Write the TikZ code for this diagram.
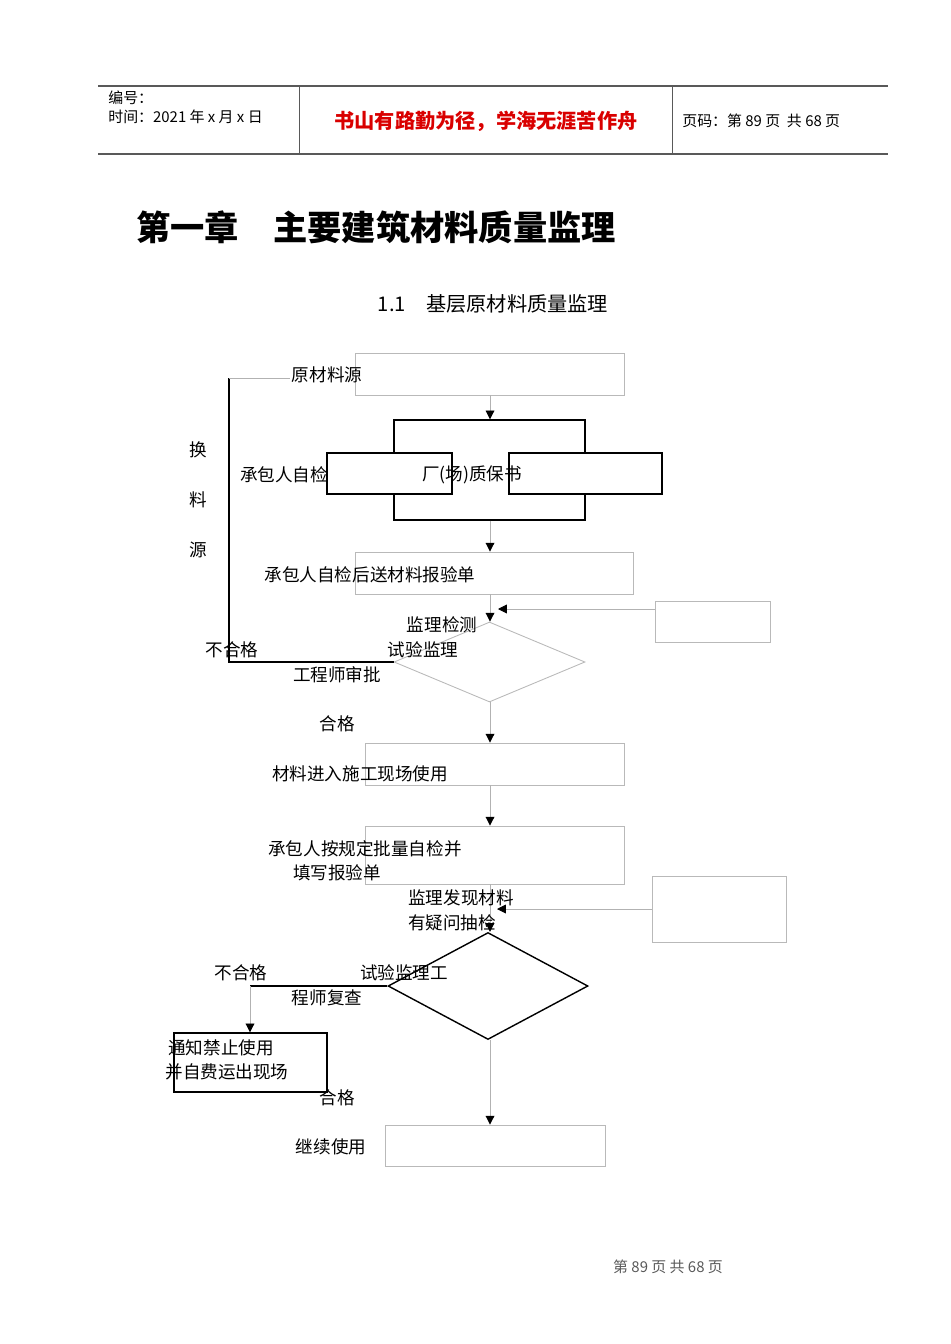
\documentclass[tikz,border=0pt]{standalone}
\usepackage{fontspec}
\setmainfont{Liberation Serif}
\newfontfamily\cjk{Noto Sans CJK SC}
\usetikzlibrary{shapes.geometric,arrows.meta}

\begin{document}
\begin{tikzpicture}[
  x=0.02cm,
  y=-0.02cm, % <-- one unit per pixel of the page
  >={Triangle[length=5pt,width=5pt,color=black]},
  every node/.style={font=\cjk\fontsize{10}{12}\selectfont, inner sep=0pt},
  gbox/.style={draw=gray!55, line width=0.5pt},
  kbox/.style={draw=black, line width=0.8pt, fill=white},
  gline/.style={draw=gray!60, line width=0.5pt},
  kline/.style={draw=black, line width=0.8pt}
]
\useasboundingbox (0,0) rectangle (950,1344);

% Header
\draw[gray!70!black, line width=0.6pt] (98,86) -- (888,86);
\draw[gray!70!black, line width=0.6pt] (98,154) -- (888,154);
\draw[gray!70!black, line width=0.5pt] (299,86) -- (299,154);
\draw[gray!70!black, line width=0.5pt] (672,86) -- (672,154);
\node[anchor=west, font=\cjk\fontsize{8.5}{10}\selectfont] (hnum) at (108,98) {编号：};
\node[anchor=west, font=\cjk\fontsize{8.5}{10}\selectfont] (htime) at (108,117) {时间：2021 年 x 月 x 日};
\node[font=\cjk\bfseries\fontsize{11.5}{13}\selectfont, text=red!85!black] (hmotto) at (486,121) {书山有路勤为径，学海无涯苦作舟};
\node[anchor=west, font=\cjk\fontsize{8.5}{10}\selectfont] (hpage) at (682,121) {页码：第 89 页\ \ 共 68 页};

% Titles
\node[anchor=west, font=\cjk\bfseries\fontsize{19.5}{22}\selectfont] (title) at (136,227) {第一章\quad 主要建筑材料质量监理};
\node[font=\cjk\fontsize{11.5}{13}\selectfont] (subtitle) at (493,304) {1.1\quad 基层原材料质量监理};

% --- Flow boxes ---
\coordinate (spine) at (490,0);
\node[gbox, minimum width=5.38cm, minimum height=0.84cm] (src) at (489.5,374) {};
\node[kbox, minimum width=3.82cm, minimum height=2.0cm, fill=none] (cert) at (489.5,470) {};
\node[kbox, minimum width=2.5cm, minimum height=0.82cm] (selfA) at (389.5,473.5) {};
\node[kbox, minimum width=3.06cm, minimum height=0.82cm] (selfB) at (585.5,473.5) {};
\node[gbox, minimum width=5.56cm, minimum height=0.84cm] (report) at (494,573) {};
\node[gbox, minimum width=2.3cm, minimum height=0.82cm] (side1) at (712.5,621.5) {};
\node[diamond, gbox, minimum width=3.82cm, minimum height=1.6cm] (check) at (489.5,662) {};
\node[gbox, minimum width=5.18cm, minimum height=0.84cm] (site) at (494.5,764) {};
\node[gbox, minimum width=5.18cm, minimum height=1.16cm] (batch) at (494.5,855) {};
\node[gbox, minimum width=2.68cm, minimum height=1.32cm] (side2) at (719,909) {};
\node[diamond, kbox, fill=none, minimum width=4.0cm, minimum height=2.14cm] (recheck) at (488,986) {};
\node[kbox, minimum width=3.06cm, minimum height=1.18cm] (reject) at (250.5,1062.5) {};
\node[gbox, minimum width=4.4cm, minimum height=0.82cm] (goon) at (495,1145.5) {};

\coordinate (in1) at (498,609);
\coordinate (in2) at (497,909);
\coordinate (c1) at (229,662);
\coordinate (c2) at (229,378);
\coordinate (c3) at (290,378);
\coordinate (c4) at (250,986);

% Connectors
\draw[gline, ->] (spine |- src.south) -- (spine |- cert.north);
\draw[gline, ->] (spine |- cert.south) -- (spine |- report.north);
\draw[gline, ->] (spine |- report.south) -- (spine |- check.north);
\draw[gline, ->] (side1.west |- in1) -- (in1);
\draw[kline] (check.west) -- (c1) -- (c2);
\draw[gline] (c2) -- (c3);
\draw[gline, ->] (spine |- check.south) -- (spine |- site.north);
\draw[gline, ->] (spine |- site.south) -- (spine |- batch.north);
\draw[gline, ->] (spine |- batch.south) -- (spine |- recheck.north);
\draw[gline, ->] (side2.west |- in2) -- (in2);
\draw[kline] (recheck.west) -- (c4);
\draw[gline, ->] (c4) -- (reject.north -| c4);
\draw[gline, ->] (spine |- recheck.south) -- (spine |- goon.north);

% Labels
\node (tsrc) at (327,375) {原材料源};
\node (tselfA) at (284,475) {承包人自检};
\node (tselfB) at (472,475) {厂(场)质保书};
\node (treport) at (370,575) {承包人自检后送材料报验单};
\node (tswap1) at (198,450) {换};
\node (tswap2) at (198,500) {料};
\node (tswap3) at (198,550) {源};
\node (tcheck1) at (442,625) {监理检测};
\node (tcheck2) at (423,650) {试验监理};
\node (tcheck3) at (337,675) {工程师审批};
\node (tfail1) at (232,650) {不合格};
\node (tpass1) at (337,724) {合格};
\node (tsite) at (360,774) {材料进入施工现场使用};
\node (tbatch1) at (365,849) {承包人按规定批量自检并};
\node (tbatch2) at (337,873) {填写报验单};
\node (tfind1) at (461,898) {监理发现材料};
\node (tfind2) at (452,923) {有疑问抽检};
\node (trech1) at (404,973) {试验监理工};
\node (trech2) at (327,998) {程师复查};
\node (tfail2) at (241,973) {不合格};
\node (trej1) at (221,1048) {通知禁止使用};
\node (trej2) at (227,1072) {并自费运出现场};
\node (tpass2) at (337,1098) {合格};
\node (tgoon) at (331,1147) {继续使用};

% Footer
\node[font=\fontsize{8.5}{10}\selectfont\cjk, text=gray!70!black] (foot) at (668,1267) {第 89 页 共 68 页};
\end{tikzpicture}
\end{document}
